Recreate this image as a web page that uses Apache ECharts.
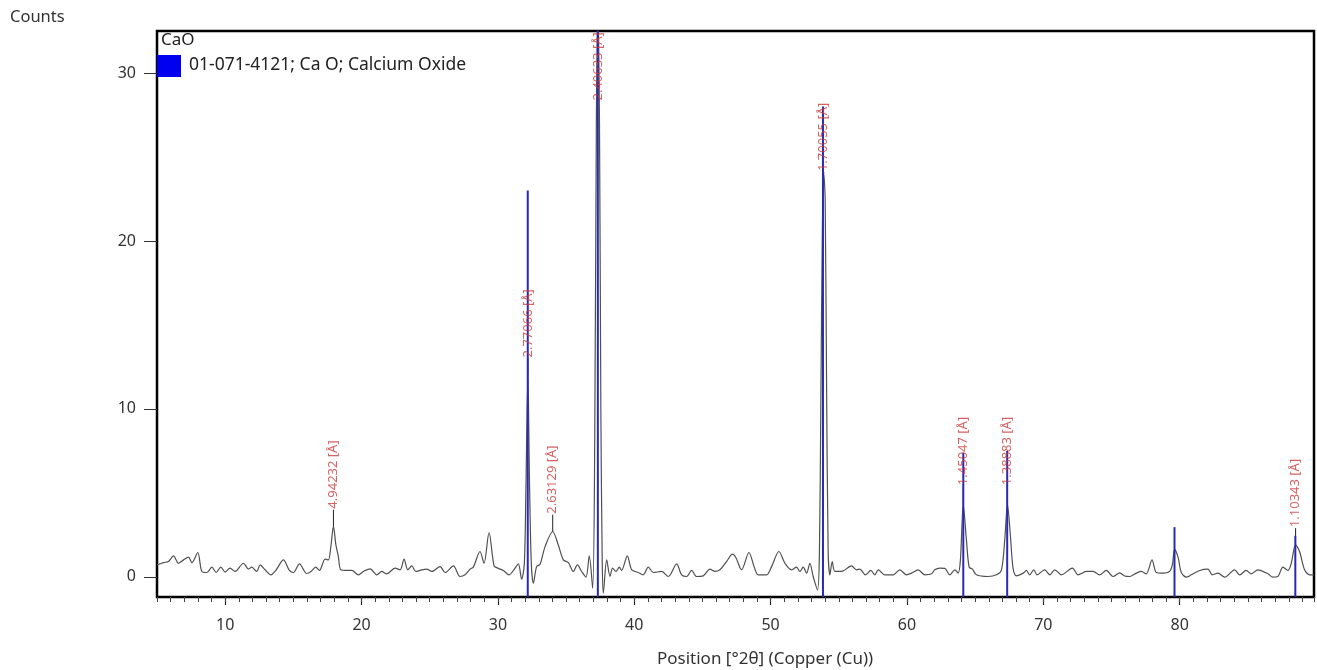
<!DOCTYPE html>
<html>
<head>
<meta charset="utf-8">
<script src="https://cdn.jsdelivr.net/npm/echarts@6/dist/echarts.min.js"></script>
<style>
html,body{margin:0;padding:0;background:#fff;}
#chart{width:1317px;height:670px;}
</style>
</head>
<body>
<div id="chart"></div>
<script>
// ---- data ----
const positions = [
5.0,5.48,5.84,6.21,6.58,6.95,7.31,7.56,7.99,8.29,8.66,9.02,9.34,9.68,10.0,10.36,10.73,11.34,11.71,11.95,
12.32,12.56,12.93,13.35,13.74,14.27,14.71,15.0,15.45,15.98,16.3,16.64,16.91,17.33,17.57,17.75,17.94,18.12,18.3,18.48,
18.92,19.29,19.77,20.14,20.63,21.12,21.48,21.85,22.46,22.83,23.12,23.39,23.68,23.98,24.42,24.78,25.15,25.76,26.13,26.74,
27.22,27.59,27.96,28.2,28.69,28.98,29.35,29.72,29.99,30.4,30.82,31.21,31.5,31.74,31.94,32.05,32.2,32.32,32.45,32.6,
32.84,33.09,33.46,34.02,34.43,34.8,35.17,35.53,35.83,36.14,36.46,36.7,36.95,37.1,37.22,37.33,37.45,37.55,37.65,37.73,
37.98,38.22,38.41,38.66,38.9,39.07,39.49,39.81,40.3,40.66,41.03,41.4,42.01,42.5,43.11,43.47,43.84,44.21,44.57,45.06,
45.55,45.92,46.28,46.77,47.2,47.45,47.87,48.41,48.8,49.09,49.7,50.07,50.61,51.05,51.54,51.9,52.15,52.39,52.64,52.88,
53.12,53.44,53.58,53.68,53.8,53.9,54.0,54.1,54.22,54.35,54.52,54.71,55.2,55.93,56.3,56.54,56.96,57.35,57.64,57.89,
58.38,58.99,59.48,59.96,60.33,60.82,61.31,61.8,62.04,62.41,62.77,63.14,63.51,63.75,63.92,64.13,64.36,64.56,64.8,65.09,
65.95,66.56,66.93,67.17,67.37,67.59,67.78,68.03,68.52,68.76,69.0,69.3,69.54,70.1,70.47,70.84,71.32,72.13,72.55,73.16,
73.65,74.13,74.62,75.11,75.6,75.97,76.33,76.82,77.19,77.55,77.97,78.29,78.78,79.26,79.46,79.63,79.88,80.12,80.49,80.85,
81.46,82.07,82.39,82.81,83.3,84.03,84.4,84.88,85.25,85.74,86.47,86.84,87.2,87.57,87.94,88.18,88.5,88.79,89.16,89.53,
89.85
];
const counts = [
0.71,0.85,0.91,1.25,0.81,1.01,1.17,0.85,1.45,0.32,0.26,0.58,0.26,0.58,0.28,0.52,0.32,0.81,0.46,0.58,
0.32,0.71,0.42,0.12,0.42,1.01,0.38,0.26,0.77,0.2,0.32,0.58,0.38,1.05,1.01,1.8,3.0,1.9,1.21,0.42,
0.38,0.38,0.12,0.32,0.48,0.12,0.32,0.18,0.52,0.42,1.05,0.42,0.65,0.32,0.42,0.46,0.32,0.61,0.26,0.65,
0.02,0.12,0.46,0.58,1.51,0.81,2.64,0.65,0.52,0.38,0.12,0.46,0.77,-0.14,0.81,5.0,12.0,5.5,0.8,-0.38,
0.61,0.75,1.8,2.7,1.9,1.01,0.85,0.32,0.71,0.32,-0.02,1.25,-0.68,8,27,34,27,10,1,-0.97,
1.01,0.02,0.52,0.32,0.58,0.38,1.25,0.42,0.26,0.12,0.58,0.26,0.32,0.02,0.77,0.12,0.02,0.38,0.02,0.06,
0.46,0.32,0.42,0.91,1.35,1.15,0.42,1.45,0.58,0.12,0.12,0.61,1.51,0.81,0.42,0.58,0.32,0.58,0.22,0.81,
0.02,-0.77,1.5,10,21,24.0,22.5,12,1.5,0.12,0.91,0.32,0.32,0.65,0.42,0.46,0.12,0.38,0.12,0.42,
0.12,0.12,0.42,0.12,0.22,0.42,0.12,0.18,0.42,0.52,0.5,0.12,0.42,0.22,1.01,4.29,2.2,0.58,0.46,0.12,
0.02,0.12,0.42,2.2,4.29,2.4,0.52,0.06,0.22,0.38,0.12,0.42,0.12,0.42,0.12,0.42,0.12,0.52,0.12,0.32,
0.32,0.12,0.38,0.02,0.24,0.05,0.02,0.22,0.32,0.18,1.01,0.26,0.22,0.32,0.71,1.64,1.17,0.26,-0.02,0.12,
0.38,0.46,0.12,0.22,-0.02,0.42,0.12,0.38,0.18,0.42,0.18,-0.02,0.02,0.58,0.38,0.81,1.9,1.51,0.42,0.12,
0.12
];
// reference pattern sticks (CaO 01-071-4121)
const stickPositions = [32.19, 37.33, 53.84, 64.13, 67.35, 79.62, 88.48];
const stickHeights   = [23.0, 33.0, 28.0, 7.4, 7.5, 2.96, 2.44];
// labelled peaks
const peakPositions = [17.94, 32.2, 34.02, 37.33, 53.9, 64.13, 67.37, 88.5];
const peakHeights   = [3.0, 12.0, 2.7, 32.5, 24.0, 4.29, 4.29, 1.9];
const peakMarkTops  = [4.0, 13.0, 3.7, 28.3, 24.1, 5.4, 5.4, 2.9];
const peakLabels = ['4.94232 [Å]','2.77066 [Å]','2.63129 [Å]','2.40633 [Å]','1.70055 [Å]','1.45047 [Å]','1.38883 [Å]','1.10343 [Å]'];
// axes
const xMajorTicks = [10, 20, 30, 40, 50, 60, 70, 80];
const yTicks = [0, 10, 20, 30];
const legendName = '01-071-4121; Ca O; Calcium Oxide';
const phaseName = 'CaO';

const X_MIN = 5, X_MAX = 89.85, Y_MIN = -1.2, Y_MAX = 32.5;
const FONT = 'Noto Sans';

const curve = positions.map((p, i) => [p, counts[i]]);
const sticks = stickPositions.map((p, i) => [p, stickHeights[i]]);
const marks = peakPositions.map((p, i) => [p, peakHeights[i], peakMarkTops[i]]);
const labelPts = peakPositions.map((p, i) => ({ value: [p, peakMarkTops[i]], name: peakLabels[i] }));

const chart = echarts.init(document.getElementById('chart'), null, { renderer: 'canvas' });
chart.setOption({
  animation: false,
  backgroundColor: '#fff',
  textStyle: { fontFamily: FONT },
  grid: { left: 157, right: 3, top: 31, bottom: 73, show: true, borderColor: '#000', borderWidth: 2.5, backgroundColor: 'transparent' },
  xAxis: [
    {
      type: 'value', min: X_MIN, max: X_MAX,
      axisLine: { show: false, onZero: false },
      axisTick: { show: true, customValues: xMajorTicks, length: 8, lineStyle: { color: '#222', width: 1.2 } },
      axisLabel: { customValues: xMajorTicks, fontSize: 16, color: '#333', margin: 20, fontFamily: FONT },
      splitLine: { show: false }
    },
    {
      type: 'value', min: X_MIN, max: X_MAX, interval: 1, position: 'bottom',
      axisLine: { show: false, onZero: false },
      axisTick: { show: true, length: 5, lineStyle: { color: '#444', width: 1 } },
      axisLabel: { show: false },
      splitLine: { show: false }
    }
  ],
  yAxis: {
    type: 'value', min: Y_MIN, max: Y_MAX,
    axisLine: { show: false, onZero: false },
    axisTick: { show: true, customValues: yTicks, length: 13, lineStyle: { color: '#333', width: 1 } },
    axisLabel: { customValues: yTicks, fontSize: 16, color: '#333', margin: 21, fontFamily: FONT },
    splitLine: { show: false }
  },
  series: [
    {
      type: 'line', data: curve, xAxisIndex: 0, showSymbol: false, symbol: 'none',
      smooth: 0.3, clip: true, z: 2,
      lineStyle: { color: '#505050', width: 1.2 }
    },
    {
      type: 'custom', xAxisIndex: 0, data: marks, clip: true, z: 3,
      renderItem: function (params, api) {
        const a = api.coord([api.value(0), api.value(1)]);
        const b = api.coord([api.value(0), api.value(2)]);
        return { type: 'line', shape: { x1: a[0], y1: a[1], x2: b[0], y2: b[1] }, style: { stroke: '#222', lineWidth: 1 } };
      }
    },
    {
      type: 'custom', name: legendName, xAxisIndex: 0, data: sticks, clip: true, z: 4,
      renderItem: function (params, api) {
        const a = api.coord([api.value(0), Y_MIN]);
        const b = api.coord([api.value(0), api.value(1)]);
        return { type: 'line', shape: { x1: a[0], y1: a[1], x2: b[0], y2: b[1] }, style: { stroke: '#2a2ab0', lineWidth: 2 } };
      }
    },
    {
      type: 'scatter', xAxisIndex: 0, data: labelPts, symbolSize: 0, z: 5, silent: true,
      label: {
        show: true, position: 'top', distance: 1, rotate: 90, align: 'left', verticalAlign: 'middle',
        formatter: p => p.name, color: '#cc3b3b', fontSize: 13, fontFamily: FONT
      }
    }
  ],
  graphic: [
    { type: 'text', left: 10, top: 9, style: { text: 'Counts', font: '16.5px "Noto Sans"', fill: '#333' } },
    { type: 'text', left: 161, top: 32, style: { text: phaseName, font: '17px "Noto Sans"', fill: '#222' }, z: 10 },
    { type: 'rect', left: 157, top: 55, shape: { width: 24, height: 22 }, style: { fill: '#0000f0' }, z: 10 },
    { type: 'text', left: 189, top: 56, style: { text: legendName, font: '17.5px "Noto Sans"', fill: '#222' }, z: 10 },
    { type: 'text', left: 657, top: 651, style: { text: 'Position [°2θ] (Copper (Cu))', font: '17px "Noto Sans"', fill: '#333' } }
  ]
});
</script>
</body>
</html>
